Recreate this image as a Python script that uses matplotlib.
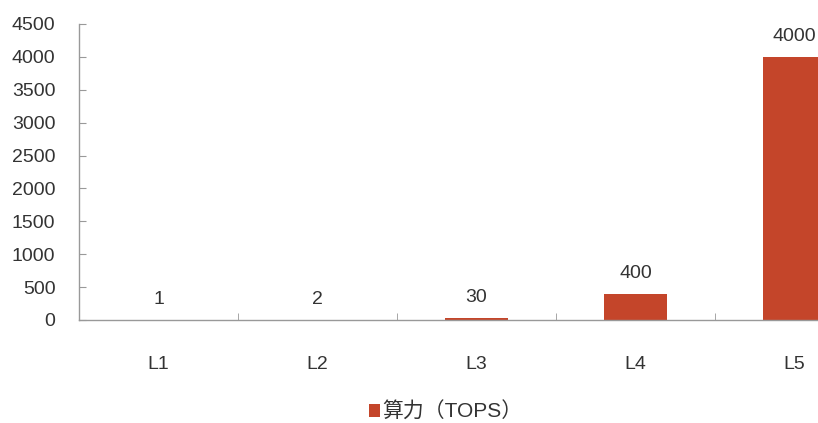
import numpy as np
import matplotlib
matplotlib.use("Agg")
import matplotlib.pyplot as plt

plt.rcParams['font.family'] = ['Liberation Sans', 'Noto Sans CJK SC', 'DejaVu Sans']

# 各级别算力
levels = ['L1', 'L2', 'L3', 'L4', 'L5']
tops = [1, 2, 30, 400, 4000]
series_name = '算力（TOPS）'
yticks = [0, 500, 1000, 1500, 2000, 2500, 3000, 3500, 4000, 4500]

bar_color = '#C4452A'
axis_color = '#999999'
text_color = '#333333'
fs = 14

fig = plt.figure(figsize=(8.18, 4.23), dpi=100)
# 图区向右超出画布，L5 柱子被截掉一部分
ax = fig.add_axes([0.0966, 0.2435, 0.972, 0.6998])

x = np.arange(len(levels))
bars = ax.bar(x, tops, width=0.4, color=bar_color, label=series_name)

for xi, v in zip(x, tops):
    ax.annotate(str(v), (xi, v), xytext=(0, 11.5), textcoords='offset points',
                ha='center', va='baseline', fontsize=fs, color=text_color)

ax.set_xlim(-0.5, len(levels) - 0.5)
ax.set_ylim(0, 4500)
ax.set_yticks(yticks)
ax.set_yticklabels([str(t) for t in yticks], fontsize=fs, color=text_color)

ax.set_xticks(x)
ax.set_xticklabels(levels, fontsize=fs, color=text_color)
ax.tick_params(axis='x', length=0, pad=26)
ax.set_xticks(x[:-1] + 0.5, minor=True)
ax.tick_params(axis='x', which='minor', direction='in', length=5, color=axis_color)
ax.tick_params(axis='y', direction='in', length=5, color=axis_color, pad=17)

for side in ['top', 'right']:
    ax.spines[side].set_visible(False)
for side in ['left', 'bottom']:
    ax.spines[side].set_color(axis_color)
    ax.spines[side].set_linewidth(1.0)

fig.legend(handles=[bars], labels=[series_name], loc='center',
           bbox_to_anchor=(0.545, 0.027), frameon=False, fontsize=15,
           handlelength=0.55, handleheight=0.55, handletextpad=0.1,
           borderpad=0.1, labelcolor=text_color)

fig.savefig('out.png', dpi=100)
